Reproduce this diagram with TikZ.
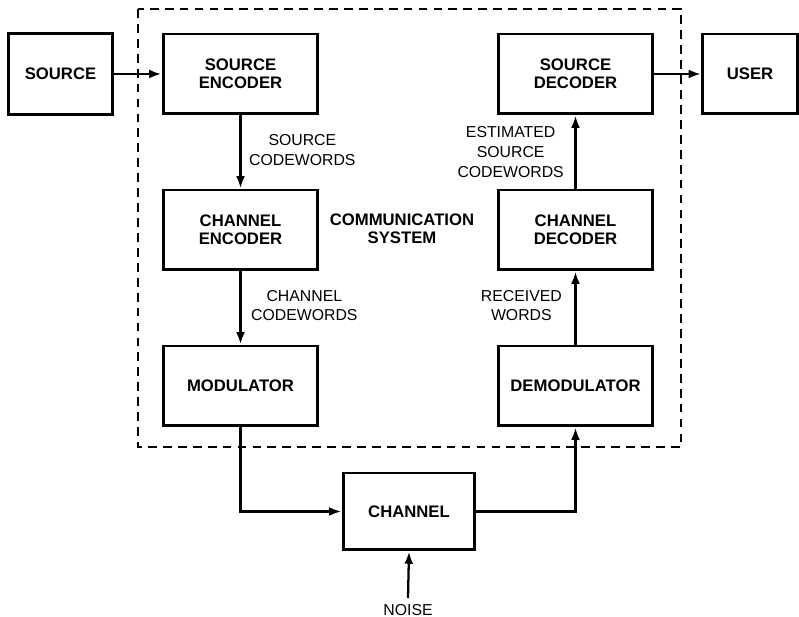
\documentclass[tikz,border=0pt]{standalone}
\usepackage{fontspec}
\setmainfont{Liberation Sans}
\usetikzlibrary{arrows.meta}

\begin{document}
\begin{tikzpicture}[x=0.02cm, y=-0.02cm,
    block/.style={draw, line width=1.7pt, align=center, minimum width=3.1cm,
        minimum height=1.6cm, font=\fontsize{9.5}{10.5}\selectfont\bfseries},
    flow/.style={line width=1.3pt, -{Latex[length=7pt,width=5pt]}},
    tag/.style={align=center, font=\fontsize{9}{11.3}\selectfont}]

    \useasboundingbox (0,0) rectangle (799,617);

    % Dashed frame around the communication system
    \draw[line width=0.7pt, dash pattern=on 5pt off 3.5pt] (138,9) rectangle (681,447);
    \node[tag, font=\fontsize{9.5}{10.5}\selectfont\bfseries] (system) at (402,229) {COMMUNICATION\\SYSTEM};

    % Transmitter side
    \node[block, minimum width=2.1cm, minimum height=1.62cm] (source) at (60.5,74) {SOURCE};
    \node[block] (senc) at (240.5,74) {SOURCE\\ENCODER};
    \node[block] (cenc) at (240.5,230) {CHANNEL\\ENCODER};
    \node[block] (mod) at (240.5,386) {MODULATOR};

    % Receiver side
    \node[block] (sdec) at (575.5,74) {SOURCE\\DECODER};
    \node[block] (cdec) at (575.5,230) {CHANNEL\\DECODER};
    \node[block] (demod) at (575.5,386) {DEMODULATOR};
    \node[block, minimum width=1.9cm] (user) at (750,74) {USER};

    % Channel and noise
    \node[block, minimum width=2.64cm, minimum height=1.54cm] (chan) at (409,511.5) {CHANNEL};
    \node[tag] (noise) at (408,610) {NOISE};

    % Connections
    \draw[flow] (source) -- (senc);
    \draw[flow] (senc) -- (cenc);
    \draw[flow] (cenc) -- (mod);
    \draw[flow] (mod.south) |- (chan.west);
    \draw[flow] (chan.east) -| (demod.south);
    \draw[flow] (demod) -- (cdec);
    \draw[flow] (cdec) -- (sdec);
    \draw[flow] (sdec) -- (user);
    \draw[flow] (noise.north) -- (chan.south);

    % Labels along the links
    \node[tag, anchor=west] (scw) at (243,150) {SOURCE\\CODEWORDS};
    \node[tag, anchor=west] (ccw) at (245,305.5) {CHANNEL\\CODEWORDS};
    \node[tag, anchor=east] (escw) at (570,152) {ESTIMATED\\SOURCE\\CODEWORDS};
    \node[tag, anchor=east] (rw) at (568,305.5) {RECEIVED\\WORDS};

\end{tikzpicture}
\end{document}
